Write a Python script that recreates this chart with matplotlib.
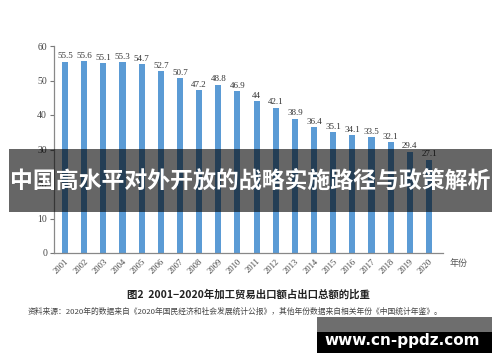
import matplotlib
matplotlib.use("Agg")
import matplotlib.pyplot as plt
import matplotlib.transforms as mtransforms
from matplotlib.patches import Rectangle

years = ["2001", "2002", "2003", "2004", "2005", "2006", "2007", "2008", "2009", "2010",
         "2011", "2012", "2013", "2014", "2015", "2016", "2017", "2018", "2019", "2020"]
values = [55.5, 55.6, 55.1, 55.3, 54.7, 52.7, 50.7, 47.2, 48.8, 46.9,
          44, 42.1, 38.9, 36.4, 35.1, 34.1, 33.5, 32.1, 29.4, 27.1]
yticks = [0, 10, 20, 30, 40, 50, 60]

banner_title = "中国高水平对外开放的战略实施路径与政策解析"
caption = "图2  2001−2020年加工贸易出口额占出口总额的比重"
source = "资料来源：2020年的数据来自《2020年国民经济和社会发展统计公报》，其他年份数据来自相关年份《中国统计年鉴》。"
xunit = "年份"
watermark = "www.cn-ppdz.com"

W, H = 500, 362
fig = plt.figure(figsize=(5, 3.62), dpi=100)
fig.patch.set_facecolor("white")

ax = fig.add_axes([54 / W, 1 - 253 / H, (443 - 54) / W, (253 - 46) / H])
x = list(range(len(years)))
ax.bar(x, values, width=0.32, color="#5b9bd5", zorder=2)
for xi, v in zip(x, values):
    ax.text(xi, v + 0.4, f"{v:g}", ha="center", va="bottom", fontsize=6.5,
            family="Liberation Serif", color="#333333")
ax.set_xlim(-0.574, 19.73)
ax.set_ylim(0, 60)
ax.set_yticks(yticks)
ax.set_yticklabels([str(t) for t in yticks], family="Liberation Serif", fontsize=7, color="#444444")
ax.set_xticks(x)
ax.set_xticklabels(years, rotation=45, ha="right", va="top", rotation_mode="anchor",
                   family="Liberation Serif", fontsize=6.2, color="#444444")
shift = mtransforms.ScaledTranslation(4 / 100, 0, fig.dpi_scale_trans)
for lab in ax.get_xticklabels():
    lab.set_transform(lab.get_transform() + shift)
ax.tick_params(axis="x", length=0, pad=3)
ax.tick_params(axis="y", length=3, width=0.8, color="#777777", pad=2)
for s in ["top", "right"]:
    ax.spines[s].set_visible(False)
for s in ["left", "bottom"]:
    ax.spines[s].set_color("#888888")
    ax.spines[s].set_linewidth(0.9)

ov = fig.add_axes([0, 0, 1, 1], zorder=10)
ov.set_xlim(0, W)
ov.set_ylim(H, 0)
ov.axis("off")
ov.patch.set_alpha(0)

cjk = ["Noto Sans CJK SC", "DejaVu Sans"]
ov.text(450, 263, xunit, ha="left", va="center", fontsize=6.5, family=cjk, color="#555555")
ov.text(248, 294, caption, ha="center", va="center", fontsize=7.5, family=cjk,
        fontweight="bold", color="#222222")
ov.text(235, 312, source, ha="center", va="center", fontsize=5.6, family=cjk, color="#444444")

ov.add_patch(Rectangle((9, 149), 483, 63, facecolor="black", alpha=0.6, edgecolor="none"))
ov.text(250, 181, banner_title, ha="center", va="center", fontsize=16.5, family=cjk,
        fontweight="bold", color="white")

ov.add_patch(Rectangle((317, 317), 175, 15, facecolor="#6e6e6e", edgecolor="none"))
ov.add_patch(Rectangle((317, 332), 175, 21, facecolor="black", edgecolor="none"))
ov.text(402, 341, watermark, ha="center", va="center", fontsize=11, family="DejaVu Sans",
        fontweight="bold", color="white")

fig.savefig("out.png", dpi=100)
